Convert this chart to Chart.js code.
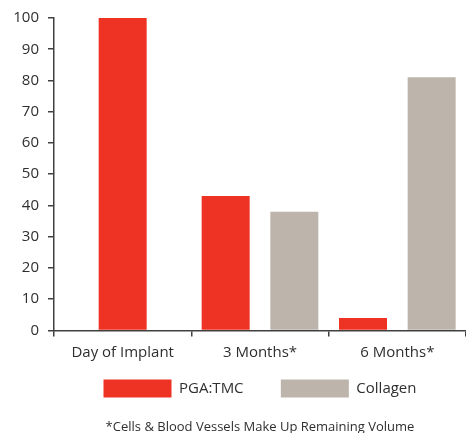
<!DOCTYPE html>
<html>
<head>
<meta charset="utf-8">
<script src="https://cdn.jsdelivr.net/npm/chart.js@4.4.0/dist/chart.umd.min.js"></script>
<style>
  html, body { margin: 0; padding: 0; background: #fff; overflow: hidden; }
  #wrap { width: 466px; height: 433px; }
</style>
</head>
<body>
<div id="wrap"><canvas id="chart" width="466" height="433"></canvas></div>
<script>
// data
const categories = ['Day of Implant', '3 Months*', '6 Months*'];
const pgaTmc = [100, 43, 4];
const collagen = [null, 38, 81];
const yTicks = [0, 10, 20, 30, 40, 50, 60, 70, 80, 90, 100];
const footnote = '*Cells & Blood Vessels Make Up Remaining Volume';

const RED = '#EE3224';
const GREY = '#BDB5AC';
const AXIS = '#404040';
const TEXT = '#2f2f2f';
const FONT = "'Open Sans', sans-serif";

const ctx = document.getElementById('chart');

new Chart(ctx, {
    type: 'bar',
    data: {
        labels: categories,
        datasets: [
            { label: 'PGA:TMC', data: pgaTmc, backgroundColor: RED },
            { label: 'Collagen', data: collagen, backgroundColor: GREY }
        ]
    },
    options: {
        responsive: false,
        animation: false,
        skipNull: true,
        categoryPercentage: 1.0,
        barPercentage: 0.7,
        maxBarThickness: 48,
        layout: { padding: { top: 18, left: 0, right: -5, bottom: -2 } },
        scales: {
            x: {
                grid: { drawOnChartArea: false, color: AXIS, lineWidth: 1.5, tickLength: 6 },
                border: { color: AXIS, width: 1.5 },
                ticks: { color: TEXT, font: { family: FONT, size: 15 }, padding: 7 },
                afterFit: (scale) => { scale.height = 39; }
            },
            y: {
                min: 0,
                max: 100,
                afterBuildTicks: (scale) => { scale.ticks = yTicks.map(v => ({ value: v })); },
                grid: { drawOnChartArea: false, color: AXIS, lineWidth: 1.5, tickLength: 6 },
                border: { color: AXIS, width: 1.5 },
                ticks: { color: TEXT, font: { family: FONT, size: 15 }, padding: 9 },
                afterFit: (scale) => { scale.width = 54; }
            }
        },
        plugins: {
            tooltip: { enabled: false },
            legend: {
                position: 'bottom',
                fullSize: false,
                labels: {
                    color: TEXT,
                    font: { family: FONT, size: 15 },
                    boxWidth: 68,
                    boxHeight: 18,
                    padding: 10,
                    // wider gap between the two legend items
                    generateLabels: (chart) => {
                        const items = Chart.defaults.plugins.legend.labels.generateLabels(chart);
                        items.forEach((item, i) => {
                            item.lineWidth = 0;
                            if (i < items.length - 1) item.text = item.text + '       ';
                        });
                        return items;
                    }
                }
            },
            title: {
                display: true,
                text: footnote,
                position: 'bottom',
                fullSize: false,
                color: TEXT,
                font: { family: FONT, size: 13, weight: 'normal' },
                padding: { top: 12, bottom: 0 }
            }
        }
    }
});
</script>
</body>
</html>
